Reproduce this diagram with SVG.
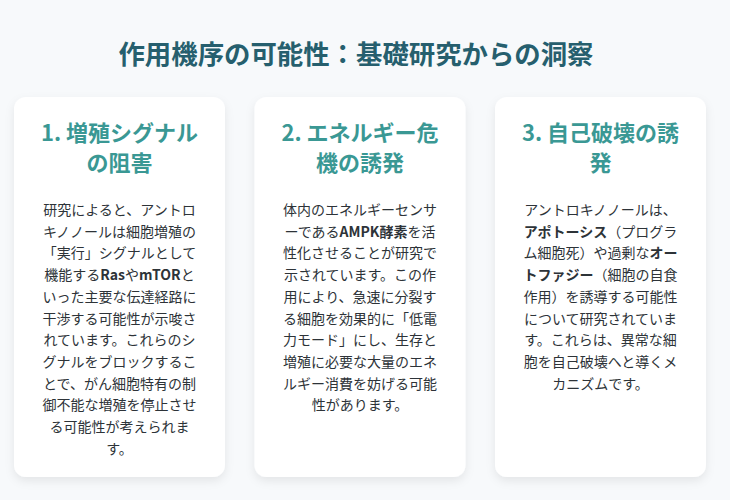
<svg xmlns="http://www.w3.org/2000/svg" width="730" height="500" viewBox="0 0 730 500">
<defs>
<filter id="sh" x="-20%" y="-20%" width="140%" height="140%">
<feDropShadow dx="0" dy="4" stdDeviation="5" flood-color="#000" flood-opacity="0.08"/>
</filter>
<style>
.title{font-family:"Noto Sans CJK JP","Noto Sans",sans-serif;font-size:26.4px;font-weight:700;fill:#265f6e;text-anchor:middle}
.hd{font-family:"Noto Sans CJK JP","Noto Sans",sans-serif;font-size:22px;font-weight:700;fill:#3a9894;text-anchor:middle}
.bd{font-family:"Noto Sans CJK JP","Noto Sans",sans-serif;font-size:14px;fill:#2d3338;text-anchor:middle}
.b{font-weight:700}
.card{fill:#ffffff;filter:url(#sh)}
</style>
</defs>
<rect width="730" height="500" fill="#f7f9fb"/>
<text class="title" x="356" y="63.5">作用機序の可能性：基礎研究からの洞察</text>
<g id="card1">
<rect class="card" x="14" y="97" width="211" height="380" rx="12"/>
<text class="hd" x="119.5" y="141">1. 増殖シグナル</text>
<text class="hd" x="119.5" y="171">の阻害</text>
<text class="bd" x="119.5" y="215">研究によると、アントロ</text>
<text class="bd" x="119.5" y="236.7">キノノールは細胞増殖の</text>
<text class="bd" x="119.5" y="258.4">「実行」シグナルとして</text>
<text class="bd" x="119.5" y="280.1">機能する<tspan class="b">Ras</tspan>や<tspan class="b">mTOR</tspan>と</text>
<text class="bd" x="119.5" y="301.8">いった主要な伝達経路に</text>
<text class="bd" x="119.5" y="323.5">干渉する可能性が示唆さ</text>
<text class="bd" x="119.5" y="345.2">れています。これらのシ</text>
<text class="bd" x="119.5" y="366.9">グナルをブロックするこ</text>
<text class="bd" x="119.5" y="388.6">とで、がん細胞特有の制</text>
<text class="bd" x="119.5" y="410.3">御不能な増殖を停止させ</text>
<text class="bd" x="119.5" y="432">る可能性が考えられま</text>
<text class="bd" x="119.5" y="453.7">す。</text>
</g>
<g id="card2">
<rect class="card" x="254.5" y="97" width="211" height="380" rx="12"/>
<text class="hd" x="360" y="141">2. エネルギー危</text>
<text class="hd" x="360" y="171">機の誘発</text>
<text class="bd" x="360" y="215">体内のエネルギーセンサ</text>
<text class="bd" x="360" y="236.7">ーである<tspan class="b">AMPK酵素</tspan>を活</text>
<text class="bd" x="360" y="258.4">性化させることが研究で</text>
<text class="bd" x="360" y="280.1">示されています。この作</text>
<text class="bd" x="360" y="301.8">用により、急速に分裂す</text>
<text class="bd" x="360" y="323.5">る細胞を効果的に「低電</text>
<text class="bd" x="360" y="345.2">力モード」にし、生存と</text>
<text class="bd" x="360" y="366.9">増殖に必要な大量のエネ</text>
<text class="bd" x="360" y="388.6">ルギー消費を妨げる可能</text>
<text class="bd" x="360" y="410.3">性があります。</text>
</g>
<g id="card3">
<rect class="card" x="495" y="97" width="211" height="380" rx="12"/>
<text class="hd" x="600.5" y="141">3. 自己破壊の誘</text>
<text class="hd" x="600.5" y="171">発</text>
<text class="bd" x="600.5" y="215">アントロキノノールは、</text>
<text class="bd" x="600.5" y="236.7"><tspan class="b">アポトーシス</tspan>（プログラ</text>
<text class="bd" x="600.5" y="258.4">ム細胞死）や過剰な<tspan class="b">オー</tspan></text>
<text class="bd" x="600.5" y="280.1"><tspan class="b">トファジー</tspan>（細胞の自食</text>
<text class="bd" x="600.5" y="301.8">作用）を誘導する可能性</text>
<text class="bd" x="600.5" y="323.5">について研究されていま</text>
<text class="bd" x="600.5" y="345.2">す。これらは、異常な細</text>
<text class="bd" x="600.5" y="366.9">胞を自己破壊へと導くメ</text>
<text class="bd" x="600.5" y="388.6">カニズムです。</text>
</g>
<g id="connectors"/>
</svg>
